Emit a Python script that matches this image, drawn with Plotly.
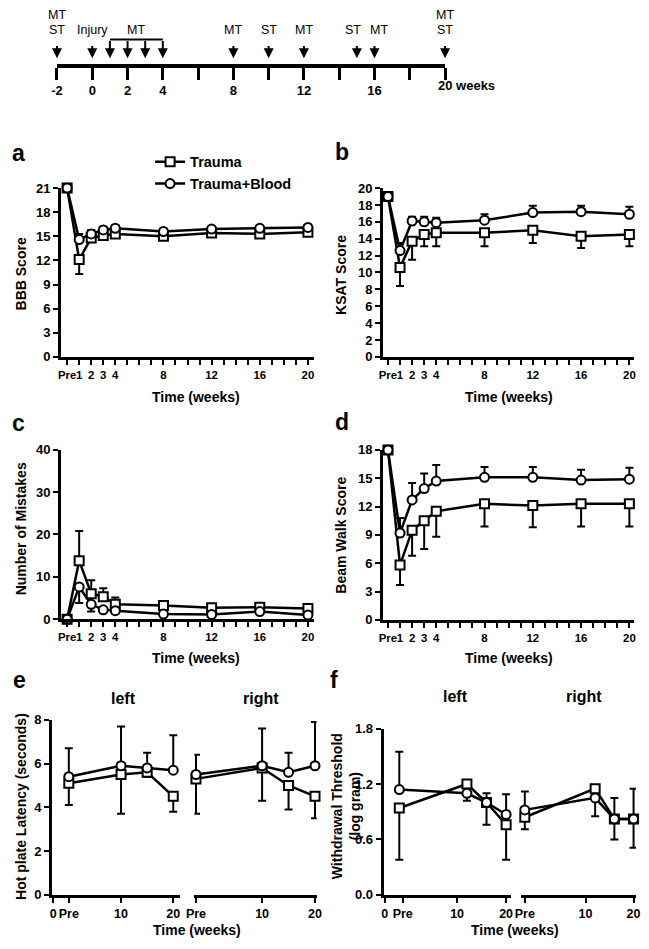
import plotly.graph_objects as go

W, H = 649, 949
FONT = "Liberation Sans"

# ---- data ----
WEEKS = [0, 1, 2, 3, 4, 8, 12, 16, 20]
WEEK_TICKS = list(range(0, 21))
WEEK_TEXT = {0: "Pre", 1: "1", 2: "2", 3: "3", 4: "4", 8: "8", 12: "12", 16: "16", 20: "20"}

# a: BBB score
bbb_trauma = [21, 12.1, 14.8, 15.1, 15.3, 15.0, 15.4, 15.3, 15.5]
bbb_trauma_lo = [0, 1.8, 0.5, 0.5, 0.4, 0.4, 0.4, 0.4, 0.4]
bbb_blood = [21, 14.6, 15.3, 15.8, 16.0, 15.6, 15.9, 16.0, 16.1]
bbb_blood_hi = [0, 0.7, 0.5, 0.4, 0.4, 0.3, 0.3, 0.3, 0.3]

# b: KSAT score
ksat_trauma = [19, 10.6, 13.7, 14.5, 14.7, 14.7, 15.0, 14.3, 14.5]
ksat_trauma_lo = [0, 2.2, 2.2, 1.4, 1.6, 1.6, 1.5, 1.4, 1.4]
ksat_blood = [19, 12.6, 16.1, 16.0, 15.9, 16.2, 17.1, 17.2, 16.9]
ksat_blood_hi = [0, 0.9, 0.5, 0.6, 0.6, 0.7, 0.8, 0.7, 0.9]

# c: number of mistakes
mis_trauma = [0, 13.8, 6.0, 5.3, 3.5, 3.2, 2.7, 2.8, 2.5]
mis_trauma_hi = [0, 7.0, 3.2, 2.0, 1.6, 0.8, 0.7, 1.0, 0.8]
mis_blood = [0, 7.6, 3.5, 2.2, 2.0, 1.2, 1.1, 1.8, 1.0]
mis_blood_lo = [0, 3.8, 1.7, 0.6, 0.7, 0.5, 0.5, 0.6, 0.4]

# d: beam walk score
beam_trauma = [18, 5.8, 9.5, 10.5, 11.5, 12.3, 12.1, 12.3, 12.3]
beam_trauma_lo = [0, 2.1, 2.7, 3.0, 2.7, 2.4, 2.3, 2.4, 2.4]
beam_blood = [18, 9.2, 12.7, 13.9, 14.7, 15.1, 15.1, 14.8, 14.9]
beam_blood_hi = [0, 1.6, 1.8, 1.6, 1.7, 1.1, 1.1, 1.1, 1.2]

# e: hot plate latency (left / right)
hp_left_x = [0, 10, 15, 20]
hp_right_x = [-2.5, 10, 15, 20]
hp_l_trauma = [5.1, 5.5, 5.6, 4.5]
hp_l_trauma_lo = [1.0, 1.8, 0.2, 0.7]
hp_l_blood = [5.4, 5.9, 5.8, 5.7]
hp_l_blood_hi = [1.3, 1.8, 0.7, 1.6]
hp_r_trauma = [5.3, 5.8, 5.0, 4.5]
hp_r_trauma_lo = [1.6, 1.5, 1.1, 1.0]
hp_r_blood = [5.5, 5.9, 5.6, 5.9]
hp_r_blood_hi = [0.9, 1.7, 0.9, 2.0]

# f: withdrawal threshold (left / right)
wt_left_x = [-1.8, 12, 16, 20]
wt_right_x = [-2.65, 12, 16, 20]
wt_l_trauma = [0.94, 1.20, 1.00, 0.76]
wt_l_trauma_hi = [0, 0.02, 0, 0]
wt_l_trauma_lo = [0.56, 0, 0.24, 0.38]
wt_l_blood = [1.14, 1.10, 1.00, 0.87]
wt_l_blood_hi = [0.41, 0, 0.10, 0.22]
wt_l_blood_lo = [0, 0.08, 0, 0]
wt_r_trauma = [0.84, 1.15, 0.82, 0.82]
wt_r_trauma_hi = [0, 0, 0, 0]
wt_r_trauma_lo = [0.13, 0, 0.22, 0.31]
wt_r_blood = [0.92, 1.05, 0.82, 0.82]
wt_r_blood_hi = [0.20, 0, 0.23, 0.33]
wt_r_blood_lo = [0, 0.20, 0, 0]

# timeline
TL_TICKS = list(range(-2, 21, 2))
TL_LABELED = [-2, 0, 2, 4, 8, 12, 16]
EVENT_WEEKS = [-2, 0, 8, 10, 12, 15, 16, 20]
EVENT_LABELS = ["MT\nST", "Injury", "MT", "ST", "MT", "ST", "MT", "MT\nST"]
MT_BLOCK = [1, 2, 3, 4]


def px_x(p0, p1):
    return [p0 / W, p1 / W]


def px_y(top, bottom):
    return [1 - bottom / H, 1 - top / H]


def aid(n):
    return "" if n == 1 else str(n)


def bold(size):
    return dict(family=FONT, size=size, color="black", weight="bold")


fig = go.Figure()


def series(n, x, y, plus, minus, symbol, name, legend=False):
    zeros = [0] * len(y)
    fig.add_trace(go.Scatter(
        x=x, y=y, xaxis="x" + aid(n), yaxis="y" + aid(n),
        mode="lines+markers", name=name, showlegend=legend, cliponaxis=False,
        line=dict(color="black", width=2.5),
        marker=dict(symbol=symbol, size=9, color="white", line=dict(color="black", width=2)),
        error_y=dict(type="data", symmetric=False,
                     array=plus if plus is not None else zeros,
                     arrayminus=minus if minus is not None else zeros,
                     color="black", thickness=2, width=4),
    ))


# a-d
series(1, WEEKS, bbb_trauma, None, bbb_trauma_lo, "square", "Trauma", True)
series(1, WEEKS, bbb_blood, bbb_blood_hi, None, "circle", "Trauma+Blood", True)
series(2, WEEKS, ksat_trauma, None, ksat_trauma_lo, "square", "Trauma")
series(2, WEEKS, ksat_blood, ksat_blood_hi, None, "circle", "Trauma+Blood")
series(3, WEEKS, mis_trauma, mis_trauma_hi, None, "square", "Trauma")
series(3, WEEKS, mis_blood, None, mis_blood_lo, "circle", "Trauma+Blood")
series(4, WEEKS, beam_trauma, None, beam_trauma_lo, "square", "Trauma")
series(4, WEEKS, beam_blood, beam_blood_hi, None, "circle", "Trauma+Blood")
# e
series(5, hp_left_x, hp_l_trauma, None, hp_l_trauma_lo, "square", "Trauma")
series(5, hp_left_x, hp_l_blood, hp_l_blood_hi, None, "circle", "Trauma+Blood")
series(6, hp_right_x, hp_r_trauma, None, hp_r_trauma_lo, "square", "Trauma")
series(6, hp_right_x, hp_r_blood, hp_r_blood_hi, None, "circle", "Trauma+Blood")
# f
series(7, wt_left_x, wt_l_trauma, wt_l_trauma_hi, wt_l_trauma_lo, "square", "Trauma")
series(7, wt_left_x, wt_l_blood, wt_l_blood_hi, wt_l_blood_lo, "circle", "Trauma+Blood")
series(8, wt_right_x, wt_r_trauma, wt_r_trauma_hi, wt_r_trauma_lo, "square", "Trauma")
series(8, wt_right_x, wt_r_blood, wt_r_blood_hi, wt_r_blood_lo, "circle", "Trauma+Blood")

# timeline bracket
fig.add_trace(go.Scatter(x=[min(MT_BLOCK), max(MT_BLOCK)], y=[25, 25], xaxis="x9", yaxis="y9",
                         mode="lines", line=dict(color="black", width=2), showlegend=False,
                         hoverinfo="skip", cliponaxis=False))

axis_common = dict(showline=True, linewidth=3, linecolor="black", showgrid=False, zeroline=False,
                   ticks="outside", ticklen=5, tickwidth=2, tickcolor="black", tickfont=bold(13),
                   tickangle=0)

layout = {}


def add_axes(n, xdom, xrange, ydom, yrange, xticks, xtext, xsize, yticks=None, yfmt=None, show_y=True):
    a = aid(n)
    layout["xaxis" + a] = dict(axis_common, domain=px_x(*xdom), range=xrange, anchor="y" + a,
                               tickmode="array", tickvals=xticks, ticktext=xtext, tickfont=bold(xsize))
    if show_y:
        yax = dict(axis_common, domain=px_y(*ydom), range=yrange, anchor="x" + a,
                   tickmode="array", tickvals=yticks)
        if yfmt:
            yax["tickformat"] = yfmt
    else:
        yax = dict(domain=px_y(*ydom), range=yrange, anchor="x" + a, visible=False)
    layout["yaxis" + a] = yax


week_text = [WEEK_TEXT.get(t, "") for t in WEEK_TICKS]
add_axes(1, (54.2, 312.2), [-0.5, 20.5], (184, 355.5), [0, 21], WEEK_TICKS, week_text, 11.4,
         list(range(0, 22, 3)))
add_axes(2, (382.8, 639.0), [-0.4, 20.4], (184, 355.5), [0, 20], WEEK_TICKS, week_text, 11.4,
         list(range(0, 21, 2)))
add_axes(3, (54.2, 312.2), [-0.5, 20.5], (449.7, 622), [0, 40], WEEK_TICKS, week_text, 11.4,
         list(range(0, 41, 10)))
add_axes(4, (382.8, 639.0), [-0.4, 20.4], (450, 622.7), [0, 18], WEEK_TICKS, week_text, 11.4,
         list(range(0, 19, 3)))
add_axes(5, (45, 175.3), [-3.2, 21.25], (724.3, 902), [0, 8], [-3.0, 0, 10, 20], ["0", "Pre", "10", "20"],
         12.5, [0, 2, 4, 6, 8])
add_axes(6, (190.2, 314.9), [-2.8, 20.3], (724.3, 902), [0, 8], [-2.5, 10, 20], ["Pre", "10", "20"],
         12.5, show_y=False)
add_axes(7, (383.3, 513.3), [-5, 21], (733.3, 902), [0, 1.8], [-4.8, -1.1, 10, 20], ["0", "Pre", "10", "20"],
         12.5, [0, 0.6, 1.2, 1.8], ".1f")
add_axes(8, (523.2, 640.8), [-3.5, 20.5], (733.3, 902), [0, 1.8], [-2.65, 10, 20], ["Pre", "10", "20"],
         12.5, show_y=False)

# timeline axis
layout["xaxis9"] = dict(domain=px_x(50, 446), range=[-2, 20], anchor="y9", showline=True, linewidth=3.5,
                        linecolor="black", showgrid=False, zeroline=False, ticks="outside", ticklen=12,
                        tickwidth=2.5, tickcolor="black", tickfont=bold(13), tickangle=0, tickmode="array",
                        tickvals=TL_TICKS, ticktext=[str(t) if t in TL_LABELED else "" for t in TL_TICKS])
layout["yaxis9"] = dict(domain=px_y(0, 58), range=[0, 58], anchor="x9", visible=False)

ann = []


def text(x, y, s, size=14, angle=0):
    ann.append(dict(x=x / W, y=1 - y / H, xref="paper", yref="paper", text=s, showarrow=False,
                    textangle=angle, xanchor="center", yanchor="middle", font=bold(size)))


# panel letters (lower-case glyphs sit low in their box, so aim a little higher)
for letter, x, y in [("a", 11, 148), ("b", 341, 147), ("c", 11, 423), ("d", 341, 422),
                     ("e", 12, 684), ("f", 333, 684)]:
    text(x, y, letter, size=23)

# axis titles
text(13, 271, "BBB Score", angle=-90)
text(339, 272, "KSAT Score", angle=-90)
text(13, 530, "Number of Mistakes", angle=-90)
text(339, 537, "Beam Walk Score", angle=-90)
text(13, 812, "Hot plate Latency (seconds)", angle=-90)
text(345, 812, "Withdrawal Threshold<br>(log gram)", angle=-90)
for x, y in [(192, 396), (511, 396), (192, 661), (511, 661), (193, 938), (517, 938)]:
    text(x, y, "Time (weeks)")
for s, x, y in [("left", 118, 703), ("right", 258, 703), ("left", 457, 701), ("right", 588, 701)]:
    text(x, y, s, size=16)

# timeline arrows and labels
plain = dict(family=FONT, size=12.5, color="black")
for wk, lab in zip(EVENT_WEEKS, EVENT_LABELS):
    ann.append(dict(x=wk, y=6, ax=wk, ay=20, xref="x9", yref="y9", axref="x9", ayref="y9", text="",
                    showarrow=True, arrowhead=2, arrowsize=1, arrowwidth=2, arrowcolor="black"))
    # labels of events only one week apart are nudged away from each other
    shift = 0
    if wk + 1 in EVENT_WEEKS:
        shift = -4
    elif wk - 1 in EVENT_WEEKS:
        shift = 4
    for i, line in enumerate(reversed(lab.split("\n"))):
        ann.append(dict(x=wk, y=35 + 15 * i, xref="x9", yref="y9", text=line, showarrow=False,
                        xshift=shift, font=plain))
for wk in MT_BLOCK:
    ann.append(dict(x=wk, y=6, ax=wk, ay=25, xref="x9", yref="y9", axref="x9", ayref="y9", text="",
                    showarrow=True, arrowhead=2, arrowsize=1, arrowwidth=2, arrowcolor="black"))
ann.append(dict(x=sum(MT_BLOCK) / len(MT_BLOCK), y=35, xref="x9", yref="y9", text="MT", showarrow=False,
                font=plain))
ann.append(dict(x=20, y=1 - 80 / H, xref="x9", yref="paper", yanchor="middle", text="20 weeks",
                showarrow=False, xanchor="left", xshift=-9, font=bold(13)))

fig.update_layout(
    width=W, height=H, margin=dict(l=0, r=0, t=0, b=0),
    paper_bgcolor="white", plot_bgcolor="white",
    annotations=ann,
    legend=dict(x=145 / W, y=1 - 141 / H, xanchor="left", yanchor="top", bgcolor="rgba(0,0,0,0)",
                font=bold(14.5), itemwidth=30, tracegroupgap=0),
    **layout,
)

# page body has a default 8px margin; drop it so the figure sits at the window origin
fig.write_html("out.html", config={"displayModeBar": False},
               post_script="document.body.style.margin='0px';")
